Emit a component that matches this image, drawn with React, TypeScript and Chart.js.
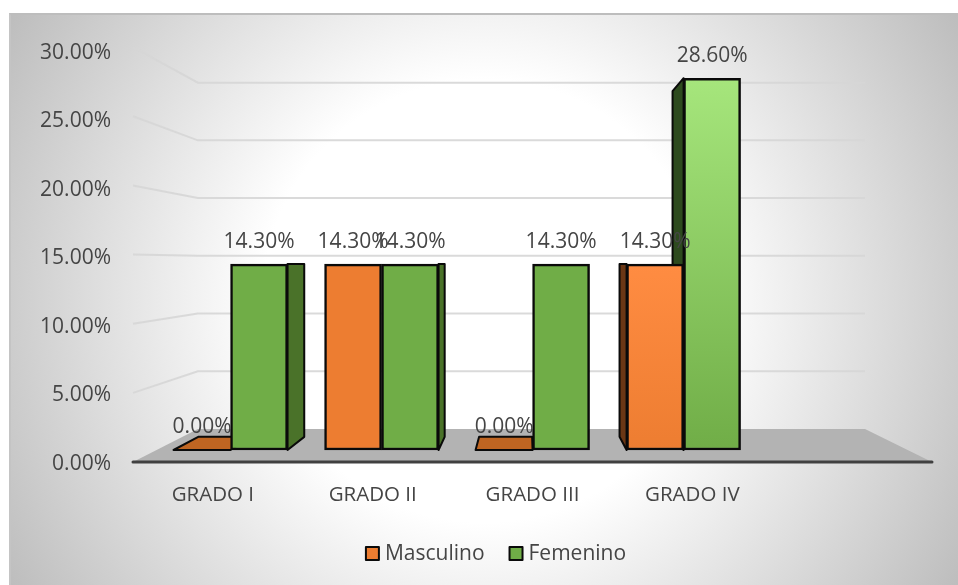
import { useEffect, useRef } from "react";
import { Chart, registerables } from "chart.js";

Chart.register(...registerables);

const categories = ["GRADO I", "GRADO II", "GRADO III", "GRADO IV", ""];
const masculino = [0, 14.3, 0, 14.3];
const femenino = [14.3, 14.3, 14.3, 28.6];
const yTicks = [0, 5, 10, 15, 20, 25, 30];

const FONT = '"Open Sans", sans-serif';
const TEXT = "#454545";
const INK = "#0a0a0a";

// Perspective of the 3D box: vanishing point and depth ratios relative to the bar plane.
const VP = { x: 526, y: 262 };
const FRONT_DEPTH = 1.0638;
const BAR_DEPTH = 0.93;
const BACK_DEPTH = 0.888;
const FLOOR_BACK = 0.835;

const project = (x: number, y: number, s: number) => ({
  x: VP.x + (x - VP.x) * s,
  y: VP.y + (y - VP.y) * s,
});

const poly = (c: CanvasRenderingContext2D, pts: { x: number; y: number }[], fill: string, stroke?: string) => {
  c.beginPath();
  pts.forEach((p, i) => (i ? c.lineTo(p.x, p.y) : c.moveTo(p.x, p.y)));
  c.closePath();
  c.fillStyle = fill;
  c.fill();
  if (stroke) {
    c.strokeStyle = stroke;
    c.lineWidth = 2;
    c.lineJoin = "round";
    c.stroke();
  }
};

const seriesStyle = [
  { base: "#ED7D31", top: "#BF6522", side: "#6B3715", light: "#FF8C42" },
  { base: "#70AD47", top: "#4A7229", side: "#4A7229", light: "#A6E67C" },
];
const sideOf = (ds: number, i: number) =>
  i === 3 ? (ds === 0 ? "#6B3715" : "#2D4A1E") : seriesStyle[ds].side;

const box3d = {
  id: "box3d",
  beforeDatasetsDraw(chart: any) {
    const c: CanvasRenderingContext2D = chart.ctx;
    const { left, right } = chart.chartArea;
    const yb = chart.scales.yb;
    const y0 = yb.getPixelForValue(0);

    // floor
    const floorFront = project(left, y0, FRONT_DEPTH).y;
    const bl = project(left, floorFront, FLOOR_BACK);
    const br = project(right, floorFront, FLOOR_BACK);
    poly(c, [{ x: left, y: floorFront }, bl, br, { x: right, y: floorFront }], "#B3B3B3");

    // gridlines on the left wall and the back wall
    c.strokeStyle = "rgba(214,214,214,0.9)";
    c.lineWidth = 2;
    yTicks.slice(1).forEach((v) => {
      const py = yb.getPixelForValue(v);
      const fy = project(left, py, FRONT_DEPTH).y;
      const by = project(left, py, BACK_DEPTH).y;
      c.beginPath();
      c.moveTo(left, fy);
      c.lineTo(bl.x, by);
      c.lineTo(br.x, by);
      c.stroke();
    });

    // floor edge at the front
    c.strokeStyle = "#404040";
    c.lineWidth = 3;
    c.lineCap = "round";
    c.beginPath();
    c.moveTo(left, floorFront);
    c.lineTo(right, floorFront);
    c.stroke();
    c.lineCap = "butt";

    // depth faces of the bars, behind all the front faces
    chart.data.datasets.forEach((ds: any, d: number) => {
      chart.getDatasetMeta(d).data.forEach((bar: any, i: number) => {
        const l = bar.x - bar.width / 2;
        const r = bar.x + bar.width / 2;
        const t = bar.y;
        const b = bar.base;
        if (ds.data[i].y === 0) {
          poly(c, [{ x: l, y: b }, project(l, b, BAR_DEPTH), project(r, b, BAR_DEPTH), { x: r, y: b }], seriesStyle[d].top, INK);
          return;
        }
        if (r < VP.x && d === 1) {
          poly(c, [{ x: r, y: t }, project(r, t, BAR_DEPTH), project(r, b, BAR_DEPTH), { x: r, y: b }], sideOf(d, i), INK);
        } else if (l > VP.x + 10) {
          poly(c, [{ x: l, y: t }, project(l, t, BAR_DEPTH), project(l, b, BAR_DEPTH), { x: l, y: b }], sideOf(d, i), INK);
        }
      });
    });
  },
  afterDatasetsDraw(chart: any) {
    const c: CanvasRenderingContext2D = chart.ctx;
    c.save();
    c.font = `21px ${FONT}`;
    c.fillStyle = TEXT;
    c.textAlign = "center";
    c.textBaseline = "middle";
    chart.data.datasets.forEach((ds: any, d: number) => {
      chart.getDatasetMeta(d).data.forEach((bar: any, i: number) => {
        c.fillText(`${ds.data[i].y.toFixed(2)}%`, bar.x, bar.y - 22.5);
      });
    });

    // legend centred under the plot
    c.textAlign = "left";
    const names = chart.data.datasets.map((ds: any) => ds.label as string);
    const widths = names.map((n: string) => c.measureText(n).width);
    const total = widths.reduce((a: number, w: number) => a + w + 20, 0) + 24;
    let x = 495.5 - total / 2;
    names.forEach((n: string, d: number) => {
      c.fillStyle = seriesStyle[d].base;
      c.strokeStyle = INK;
      c.lineWidth = 2;
      c.fillRect(x + 1, 547, 13, 13);
      c.strokeRect(x + 1, 547, 13, 13);
      c.fillStyle = TEXT;
      c.fillText(n, x + 20, 554);
      x += 20 + widths[d] + 24;
    });
    c.restore();
  },
};

export default function App() {
  const ref = useRef<HTMLCanvasElement>(null);
  useEffect(() => {
    if (!ref.current) return;
    const fill = (d: number) => (ctx: any) => {
      const s = seriesStyle[d];
      if (ctx.dataIndex !== 3 || !ctx.chart.scales.yb) return s.base;
      const yb = ctx.chart.scales.yb;
      const v = (d === 0 ? masculino : femenino)[3];
      const g = ctx.chart.ctx.createLinearGradient(0, yb.getPixelForValue(v), 0, yb.getPixelForValue(0));
      g.addColorStop(0, s.light);
      g.addColorStop(1, s.base);
      return g;
    };
    const chart = new Chart(ref.current, {
      type: "bar",
      data: {
        labels: categories,
        datasets: [
          {
            label: "Masculino",
            data: masculino.map((y, x) => ({ x, y })),
            backgroundColor: fill(0),
            borderColor: INK,
            borderWidth: 2.5,
            borderSkipped: false,
            barThickness: 57,
            xAxisID: "xb",
            yAxisID: "yb",
          },
          {
            label: "Femenino",
            data: femenino.map((y, x) => ({ x, y })),
            backgroundColor: fill(1),
            borderColor: INK,
            borderWidth: 2.5,
            borderSkipped: false,
            barThickness: 57,
            xAxisID: "xb",
            yAxisID: "yb",
          },
        ] as any,
      },
      options: {
        responsive: false,
        animation: false,
        layout: { padding: { top: 53, right: 26, bottom: 0, left: 0 } },
        plugins: { legend: { display: false }, tooltip: { enabled: false } },
        scales: {
          x: {
            type: "category",
            labels: categories,
            offset: true,
            grid: { display: false, drawTicks: false },
            border: { display: false },
            ticks: { color: TEXT, font: { family: FONT, size: 20.5 }, padding: 19, maxRotation: 0, autoSkip: false },
            afterFit: (s: any) => { s.height = 121; },
          },
          y: {
            min: 0,
            max: 30,
            grid: { display: false, drawTicks: false },
            border: { display: false },
            afterBuildTicks: (s: any) => { s.ticks = yTicks.map((value) => ({ value })); },
            ticks: {
              color: TEXT,
              font: { family: FONT, size: 21 },
              padding: 22,
              callback: (v: any) => `${Number(v).toFixed(2)}%`,
            },
            afterFit: (s: any) => { s.width = 133; },
          },
          // Bars stand on their own plane inside the box, slightly smaller than the front edge.
          xb: { type: "linear", display: false, offset: false, grid: { offset: false }, min: -0.646, max: 4.645 },
          yb: { type: "linear", display: false, min: -1.077, max: 30.54 },
        },
      } as any,
      plugins: [box3d],
    });
    return () => chart.destroy();
  }, []);
  return (
    <div style={{ position: "absolute", left: 0, top: 0, width: 958, height: 585, overflow: "hidden", background: "#fff" }}>
      <div
        style={{
          position: "absolute",
          left: 9,
          top: 13,
          right: 0,
          bottom: 0,
          borderTop: "2px solid #bdbdbd",
          borderLeft: "2px solid #c4c4c4",
          background: "radial-gradient(circle farthest-corner at 473px 286px, #ffffff 0%, #ffffff 40%, #bdbdbd 100%)",
        }}
      />
      <canvas ref={ref} width={958} height={585} style={{ position: "absolute", left: 0, top: 0 }} />
    </div>
  );
}
